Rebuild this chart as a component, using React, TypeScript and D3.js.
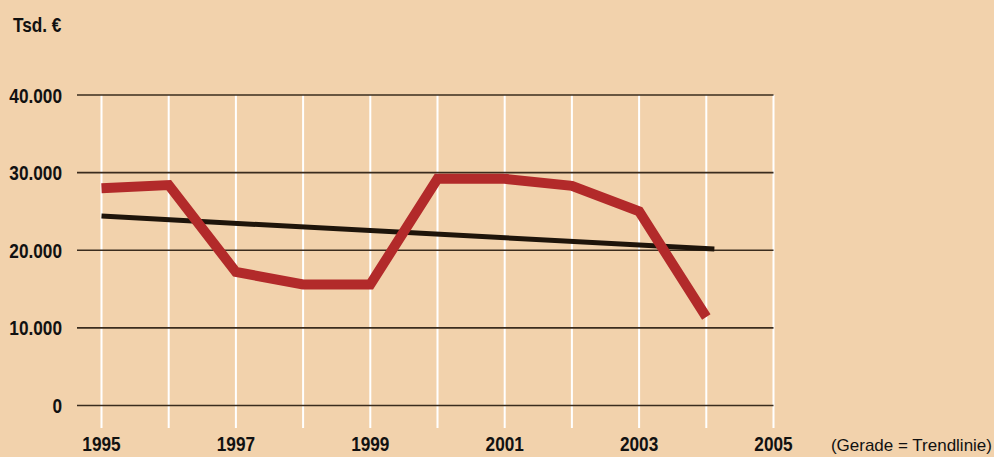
import React, { useRef, useEffect } from "react";
import * as d3 from "d3";

const years = [1995, 1996, 1997, 1998, 1999, 2000, 2001, 2002, 2003, 2004];
const values = [28000, 28400, 17200, 15600, 15600, 29200, 29200, 28300, 25000, 11400];
const trendYears = [1995, 2004.12];
const trendValues = [24400, 20150];
const yTicks = [0, 10000, 20000, 30000, 40000];
const xTickLabels = [1995, 1997, 1999, 2001, 2003, 2005];
const gridYears = d3.range(1995, 2006);

const FONT = "'Liberation Sans', Arial, sans-serif";
const SQUEEZE = 0.82; // condensed look

const App = () => {
  const svgRef = useRef<SVGSVGElement>(null);

  useEffect(() => {
    if (!svgRef.current) return;

    const width = 994;
    const height = 457;

    const svg = d3.select(svgRef.current).attr("width", width).attr("height", height);
    svg.selectAll("*").remove();

    // background
    svg.append("rect").attr("width", width).attr("height", height).attr("fill", "#f2d2ac");

    const x = d3.scaleLinear().domain([1995, 2005]).range([101.5, 773.5]);
    const y = d3.scaleLinear().domain([0, 40000]).range([405.5, 95]);

    // white vertical grid
    svg
      .append("g")
      .selectAll("line")
      .data(gridYears)
      .join("line")
      .attr("x1", (d) => x(d))
      .attr("x2", (d) => x(d))
      .attr("y1", y(40000))
      .attr("y2", 428)
      .attr("stroke", "#ffffff")
      .attr("stroke-width", 2);

    // horizontal grid lines
    svg
      .append("g")
      .selectAll("line")
      .data(yTicks)
      .join("line")
      .attr("x1", 77)
      .attr("x2", x(2005))
      .attr("y1", (d) => y(d))
      .attr("y2", (d) => y(d))
      .attr("stroke", "#3a2c1e")
      .attr("stroke-width", 1.6);

    const boldText = (sel) =>
      sel
        .style("font-family", FONT)
        .style("font-weight", "bold")
        .style("font-size", "21px")
        .attr("fill", "#111");

    // y labels
    const fmt = d3.formatLocale({ decimal: ",", thousands: ".", grouping: [3], currency: ["", "€"] }).format(",d");
    svg
      .append("g")
      .selectAll("text")
      .data(yTicks)
      .join("text")
      .attr("transform", (d) => `translate(62,${y(d) + 7.5}) scale(${SQUEEZE},1)`)
      .attr("text-anchor", "end")
      .call(boldText)
      .text((d) => fmt(d));

    // x labels
    svg
      .append("g")
      .selectAll("text")
      .data(xTickLabels)
      .join("text")
      .attr("transform", (d) => `translate(${x(d)},451) scale(${SQUEEZE},1)`)
      .attr("text-anchor", "middle")
      .call(boldText)
      .text((d) => d);

    // unit label
    svg
      .append("text")
      .attr("transform", `translate(13,32) scale(${SQUEEZE},1)`)
      .call(boldText)
      .text("Tsd. €");

    // note
    svg
      .append("text")
      .attr("x", 992)
      .attr("y", 451)
      .attr("text-anchor", "end")
      .style("font-family", FONT)
      .style("font-size", "17px")
      .attr("fill", "#111")
      .text("(Gerade = Trendlinie)");

    const line = d3
      .line<[number, number]>()
      .x((d) => x(d[0]))
      .y((d) => y(d[1]));

    // trend line
    svg
      .append("path")
      .datum(trendYears.map((yr, i) => [yr, trendValues[i]] as [number, number]))
      .attr("d", line)
      .attr("fill", "none")
      .attr("stroke", "#1e140a")
      .attr("stroke-width", 5);

    // data line
    svg
      .append("path")
      .datum(years.map((yr, i) => [yr, values[i]] as [number, number]))
      .attr("d", line)
      .attr("fill", "none")
      .attr("stroke", "#b22a2a")
      .attr("stroke-width", 10)
      .attr("stroke-linejoin", "miter");
  }, []);

  return <svg ref={svgRef} style={{ position: "absolute", left: 0, top: 0 }}></svg>;
};

export default App;
